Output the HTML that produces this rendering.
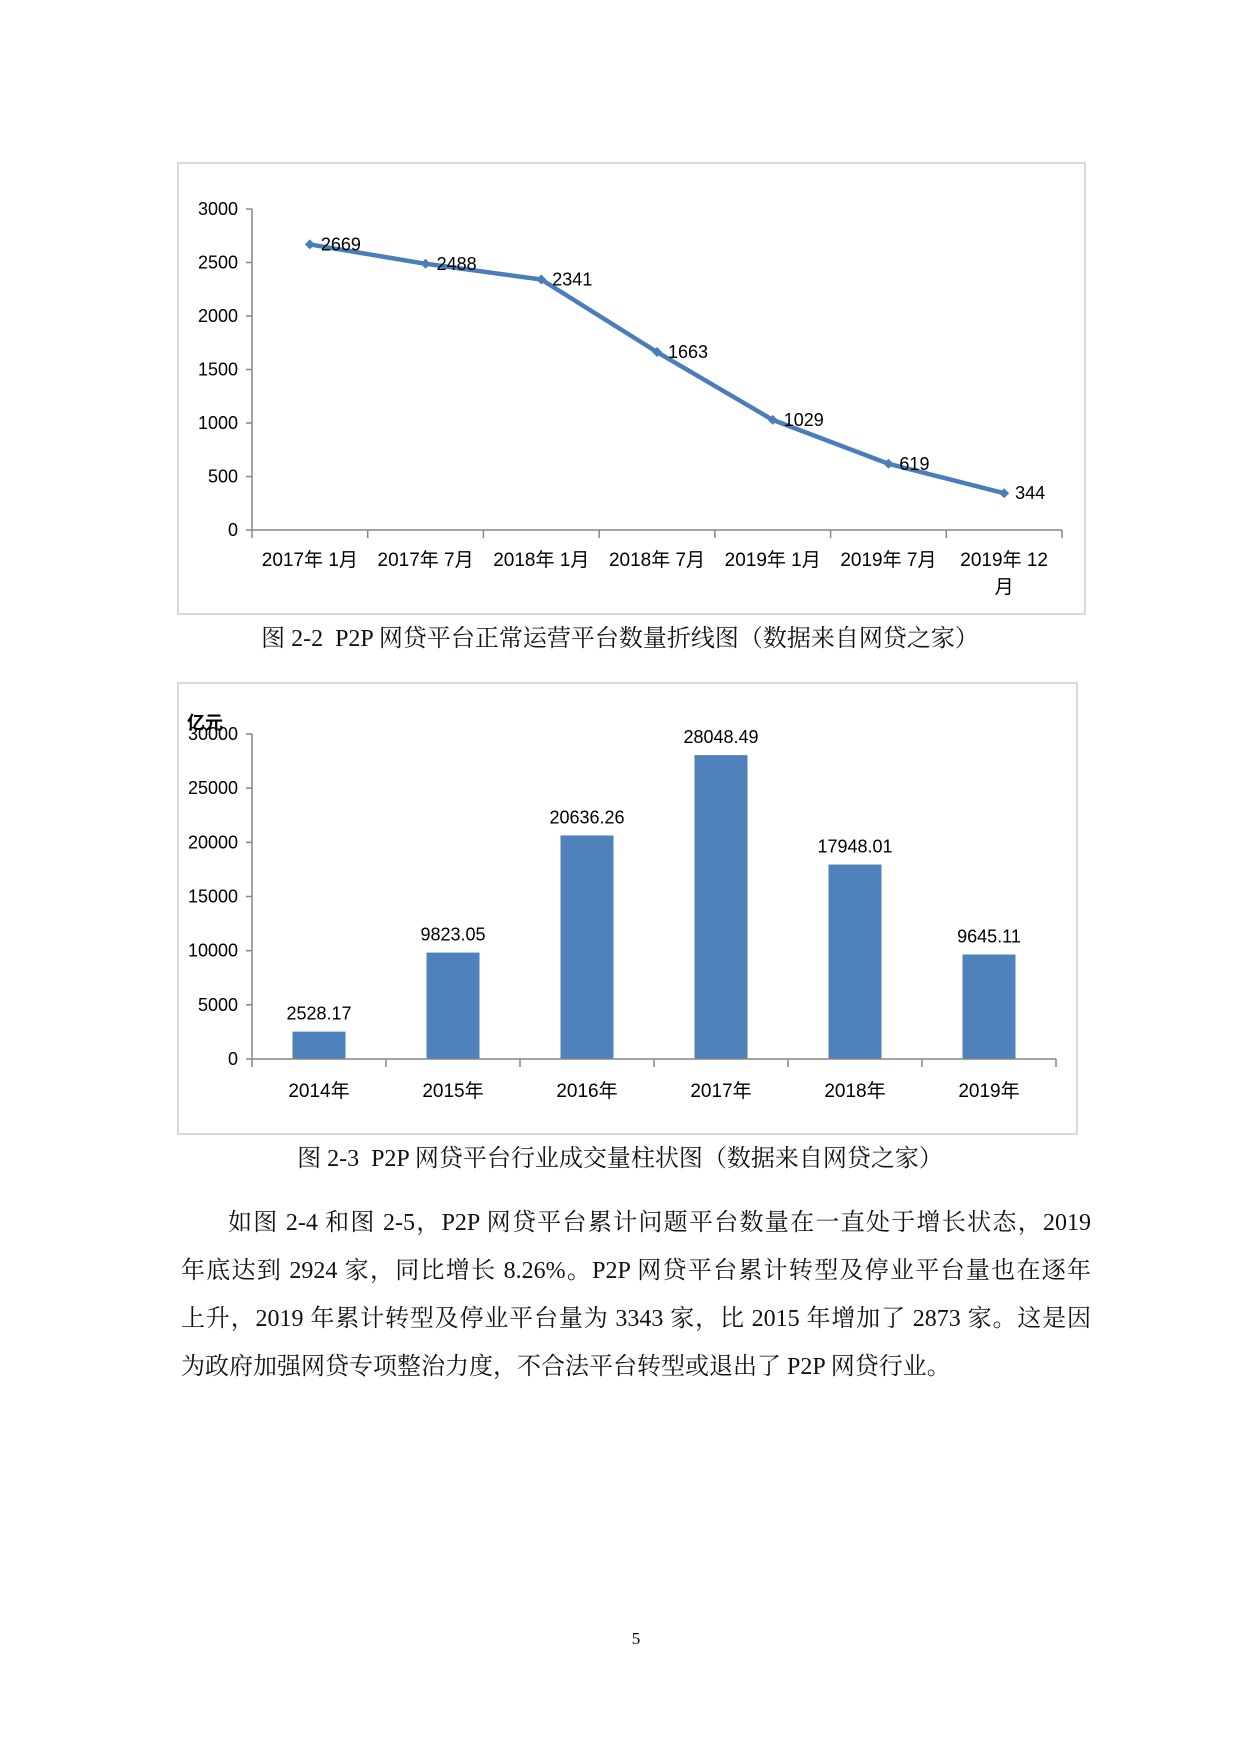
<!DOCTYPE html>
<html><head><meta charset="utf-8"><style>
body{margin:0;width:1240px;height:1754px;background:#fff;position:relative;overflow:hidden;font-family:"Liberation Sans","Noto Sans CJK SC",sans-serif}
.box{position:absolute;border:2px solid #d9d9d9;box-sizing:border-box}
.cap{position:absolute;left:0;width:1240px;text-align:center;font-family:"Liberation Serif","Noto Serif CJK SC",serif;font-size:24px;color:#111;white-space:pre}
.para{position:absolute;left:181px;width:910px;font-family:"Liberation Serif","Noto Serif CJK SC",serif;font-size:24px;color:#111}
.para div{height:48px;line-height:48px;text-align:justify;text-align-last:justify;white-space:nowrap}
svg{position:absolute;left:0;top:0}
</style></head><body>
<div class="box" style="left:177px;top:162px;width:909px;height:453px"></div>
<div class="box" style="left:177px;top:682px;width:901px;height:453px"></div>
<svg id="s" width="1240" height="1754"></svg>
<div class="cap" style="top:618px">图 2-2  P2P 网贷平台正常运营平台数量折线图（数据来自网贷之家）</div>
<div class="cap" style="top:1138px">图 2-3  P2P 网贷平台行业成交量柱状图（数据来自网贷之家）</div>
<div class="para" style="top:1199px">
<div style="padding-left:47px">如图 2-4 和图 2-5，P2P 网贷平台累计问题平台数量在一直处于增长状态，2019</div>
<div>年底达到 2924 家，同比增长 8.26%。P2P 网贷平台累计转型及停业平台量也在逐年</div>
<div>上升，2019 年累计转型及停业平台量为 3343 家，比 2015 年增加了 2873 家。这是因</div>
<div style="text-align-last:left">为政府加强网贷专项整治力度，不合法平台转型或退出了 P2P 网贷行业。</div>
</div>
<div style="position:absolute;left:630px;width:12px;top:1629px;text-align:center;font-family:'Liberation Serif',serif;font-size:17px">5</div>
<script>
const lineCats=["2017年1月","2017年7月","2018年1月","2018年7月","2019年1月","2019年7月","2019年12月"];
const lineVals=[2669,2488,2341,1663,1029,619,344];
const lineTicks=[0,500,1000,1500,2000,2500,3000];
const barCats=["2014年","2015年","2016年","2017年","2018年","2019年"];
const barVals=[2528.17,9823.05,20636.26,28048.49,17948.01,9645.11];
const barLabels=["2528.17","9823.05","20636.26","28048.49","17948.01","9645.11"];
const barTicks=[0,5000,10000,15000,20000,25000,30000];
const NS="http://www.w3.org/2000/svg",s=document.getElementById('s');
function mk(t,a,txt){const e=document.createElementNS(NS,t);for(const k in a)e.setAttribute(k,a[k]);if(txt!=null)e.textContent=txt;s.appendChild(e);return e;}
const AX="#868686",BLUE="#4a7ebb";
// line chart
{const x0=252,x1=1062,y0=530,y1=209,max=3000,n=lineCats.length,w=(x1-x0)/n;
const Y=v=>y0-(v/max)*(y0-y1),X=i=>x0+w*(i+0.5);
let e=mk('line',{x1:x0,y1:y1,x2:x0,y2:y0,stroke:AX,'stroke-width':1.5});

e=mk('line',{x1:x0,y1:y0,x2:x1,y2:y0,stroke:AX,'stroke-width':1.5});

lineTicks.forEach(t=>{mk('line',{x1:x0-6,y1:Y(t),x2:x0,y2:Y(t),stroke:AX,'stroke-width':1.5});
e=mk('text',{x:x0-14,y:Y(t)+6,'text-anchor':'end','font-size':18,fill:'#000'},t);
});
for(let i=0;i<=n;i++)mk('line',{x1:x0+w*i,y1:y0,x2:x0+w*i,y2:y0+8,stroke:AX,'stroke-width':1.5});
lineCats.forEach((c,i)=>{const m=c.match(/^(\d+年)(\d+)(月)$/);
if(m[2].length>1){e=mk('text',{x:X(i),y:566,'text-anchor':'middle','font-size':19},m[1]+' '+m[2]);mk('text',{x:X(i),y:593,'text-anchor':'middle','font-size':19},m[3]);}
else e=mk('text',{x:X(i),y:566,'text-anchor':'middle','font-size':19},m[1]+' '+m[2]+m[3]);
});
e=mk('polyline',{points:lineVals.map((v,i)=>X(i)+','+Y(v)).join(' '),fill:'none',stroke:BLUE,'stroke-width':4.5,'stroke-linejoin':'round'});

lineVals.forEach((v,i)=>{const x=X(i),y=Y(v);
e=mk('polygon',{points:`${x-5},${y} ${x},${y-5} ${x+5},${y} ${x},${y+5}`,fill:BLUE});

e=mk('text',{x:x+11,y:y+6,'font-size':18,fill:'#000'},v);
});}
// bar chart
{const x0=252,x1=1056,y0=1059,y1=734,max=30000,n=barCats.length,w=(x1-x0)/n,bw=53;
const Y=v=>y0-(v/max)*(y0-y1),X=i=>x0+w*(i+0.5);
barVals.forEach((v,i)=>{let e=mk('rect',{x:X(i)-bw/2,y:Y(v),width:bw,height:y0-Y(v),fill:'#4f81bd'});

e=mk('text',{x:X(i),y:Y(v)-12,'text-anchor':'middle','font-size':18},barLabels[i]);

e=mk('text',{x:X(i),y:1097,'text-anchor':'middle','font-size':19},barCats[i]);
});
let e=mk('line',{x1:x0,y1:y1,x2:x0,y2:y0,stroke:AX,'stroke-width':1.5});

e=mk('line',{x1:x0,y1:y0,x2:x1,y2:y0,stroke:AX,'stroke-width':1.5});

barTicks.forEach(t=>{mk('line',{x1:x0-6,y1:Y(t),x2:x0,y2:Y(t),stroke:AX,'stroke-width':1.5});
e=mk('text',{x:x0-14,y:Y(t)+6,'text-anchor':'end','font-size':18},t);
});
for(let i=0;i<=n;i++)mk('line',{x1:x0+w*i,y1:y0,x2:x0+w*i,y2:y0+8,stroke:AX,'stroke-width':1.5});
e=mk('text',{x:187,y:729,'font-size':18,'font-weight':'bold'},'亿元');
}
</script>
</body></html>
